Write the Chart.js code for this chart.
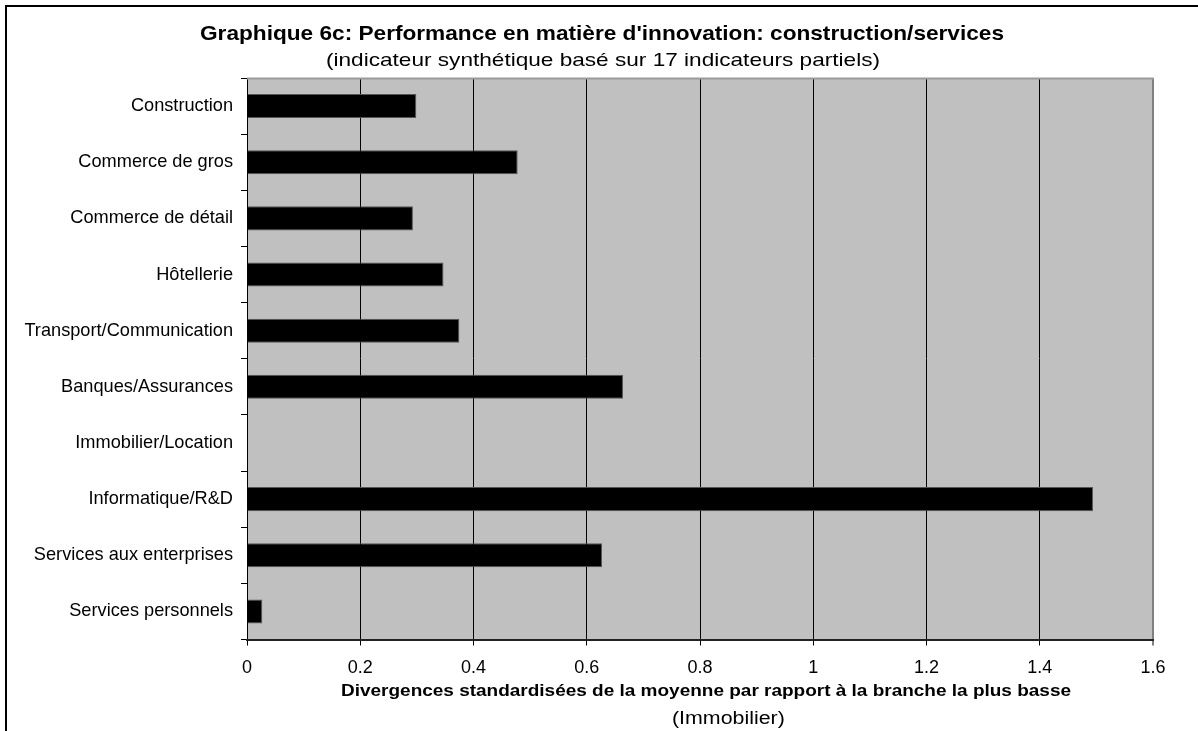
<!DOCTYPE html>
<html><head><meta charset="utf-8">
<script src="https://cdn.jsdelivr.net/npm/chart.js@4.4.0/dist/chart.umd.min.js"></script>
<style>html,body{margin:0;padding:0;background:#fff;}#wrap{width:1198px;height:731px;position:relative;}</style>
</head><body><div id="wrap"><canvas id="c" width="1198" height="731"></canvas></div>
<script>
const categories = ["Construction","Commerce de gros","Commerce de détail","Hôtellerie","Transport/Communication","Banques/Assurances","Immobilier/Location","Informatique/R&D","Services aux enterprises","Services personnels"];
const values = [0.299, 0.478, 0.293, 0.347, 0.375, 0.664, 0, 1.494, 0.627, 0.027];
const xTickLabels = ["0","0.2","0.4","0.6","0.8","1","1.2","1.4","1.6"];
const titleText = "Graphique 6c: Performance en matière d'innovation: construction/services";
const subtitleText = "(indicateur synthétique basé sur 17 indicateurs partiels)";
const xTitleText = "Divergences standardisées de la moyenne par rapport à la branche la plus basse";
const xSubtitleText = "(Immobilier)";

const FAM = "'Liberation Sans', Arial, sans-serif";

function drawScaledText(ctx, text, font, cx, baseline, targetW) {
  ctx.save();
  ctx.font = font;
  const w = ctx.measureText(text).width;
  const sx = targetW / w;
  ctx.translate(cx, baseline);
  ctx.scale(sx, 1);
  ctx.textAlign = 'center';
  ctx.textBaseline = 'alphabetic';
  ctx.fillStyle = '#000';
  ctx.fillText(text, 0, 0);
  ctx.restore();
  return sx;
}

const decor = {
  id: 'decor',
  beforeDraw(chart) {
    const {ctx, chartArea: a} = chart;
    ctx.save();
    ctx.fillStyle = '#fff';
    ctx.fillRect(0, 0, chart.width, chart.height);
    ctx.fillStyle = '#C0C0C0';
    ctx.fillRect(a.left, a.top, a.right - a.left, a.bottom - a.top);
    ctx.restore();
  },
  afterDraw(chart) {
    const {ctx, chartArea: a} = chart;
    ctx.save();
    ctx.strokeStyle = '#9a9a9a';
    ctx.lineWidth = 2;
    ctx.beginPath();
    ctx.moveTo(a.left, a.top + 0.5);
    ctx.lineTo(a.right + 1, a.top + 0.5);
    ctx.stroke();
    ctx.strokeStyle = '#000';
    ctx.lineWidth = 2;
    ctx.beginPath();
    ctx.moveTo(6, 731);
    ctx.lineTo(6, 6);
    ctx.lineTo(1198, 6);
    ctx.stroke();
    ctx.restore();
    drawScaledText(ctx, titleText, "bold 21px " + FAM, 602, 39.5, 804);
    const sx = drawScaledText(ctx, subtitleText, "18.5px " + FAM, 603, 65.5, 554);
    drawScaledText(ctx, xTitleText, "bold 16px " + FAM, 706, 696, 730);
    ctx.save();
    ctx.font = "17.5px " + FAM;
    const w = ctx.measureText(xSubtitleText).width * sx;
    ctx.restore();
    drawScaledText(ctx, xSubtitleText, "17.5px " + FAM, 672 + w / 2, 724, w);
  }
};

new Chart(document.getElementById('c'), {
  type: 'bar',
  data: {
    labels: categories,
    datasets: [{
      data: values,
      backgroundColor: '#000',
      borderColor: '#555',
      borderWidth: 1,
      barPercentage: 0.428,
      categoryPercentage: 1.0
    }]
  },
  options: {
    indexAxis: 'y',
    responsive: false,
    animation: false,
    devicePixelRatio: 1,
    layout: { padding: { top: 78, right: 45, left: 0, bottom: 0 } },
    plugins: { legend: { display: false }, tooltip: { enabled: false }, title: { display: false } },
    scales: {
      y: {
        type: 'category',
        grid: { offset: true, drawOnChartArea: false, drawTicks: true, tickLength: 6, color: '#000', lineWidth: 1 },
        border: { color: '#000', width: 1 },
        ticks: { color: '#000', font: { size: 18.2, family: FAM }, padding: 8, autoSkip: false },
        afterFit(s) { s.width = 247; }
      },
      x: {
        min: 0, max: 1.6,
        grid: {
          color: c => (c.tick && c.tick.value > 1.59) ? '#808080' : '#000',
          lineWidth: c => (c.tick && c.tick.value > 1.59) ? 2 : 1,
          tickLength: 6, drawTicks: true
        },
        border: { color: '#222', width: 2 },
        ticks: {
          stepSize: 0.2, color: '#000', font: { size: 18, family: FAM }, padding: 12,
          maxRotation: 0, autoSkip: false,
          callback: (v, i) => xTickLabels[i]
        },
        afterFit(s) { s.height = 91.5; }
      }
    }
  },
  plugins: [decor]
});
</script></body></html>
